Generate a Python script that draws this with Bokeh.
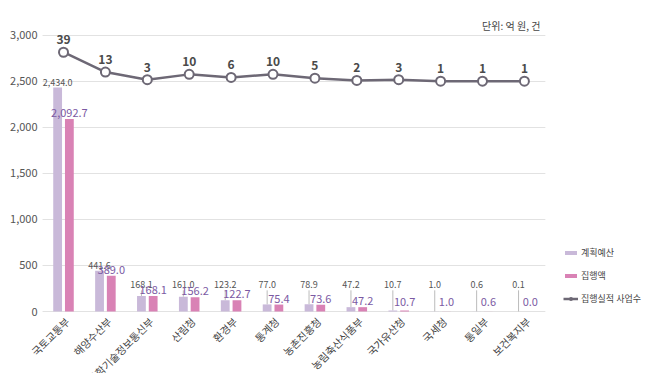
import numpy as np
from bokeh.plotting import figure
from bokeh.models import (Range1d, ColumnDataSource, LabelSet, Label,
                          Legend, LegendItem)
from bokeh.core.properties import value
from bokeh.embed import file_html
from bokeh.resources import INLINE

categories = ["국토교통부", "해양수산부", "과학기술정보통신부", "산림청", "환경부", "통계청",
              "농촌진흥청", "농림축산식품부", "국가유산청", "국세청", "통일부", "보건복지부"]
plan_budget = [2434.0, 441.6, 168.1, 161.0, 123.2, 77.0, 78.9, 47.2, 10.7, 1.0, 0.6, 0.1]
executed = [2092.7, 389.0, 168.1, 156.2, 122.7, 75.4, 73.6, 47.2, 10.7, 1.0, 0.6, 0.0]
project_count = [39, 13, 3, 10, 6, 10, 5, 2, 3, 1, 1, 1]
y_ticks = [0, 500, 1000, 1500, 2000, 2500, 3000]

FONT = "Noto Sans CJK KR"
PLAN_COLOR = "#c9b9d9"
EXEC_COLOR = "#d982b5"
LINE_COLOR = "#6d6875"

PLAN_MIN = 230
EXEC_MIN = 40
OFF = 0.14

n = len(categories)
xs = np.arange(n)
src = ColumnDataSource(dict(
    x=xs,
    xp=xs - OFF,
    xe=xs + OFF,
    cat=categories,
    plan=plan_budget,
    exe=executed,
    cnt=project_count,
    plan_txt=[f"{v:,.1f}" for v in plan_budget],
    exe_txt=[f"{v:,.1f}" for v in executed],
    cnt_txt=[str(c) for c in project_count],
    plan_lab=[max(v, PLAN_MIN) for v in plan_budget],
    exe_lab=[max(v, EXEC_MIN) for v in executed],
    zero=[0] * n,
))

tick_src = ColumnDataSource(dict(
    y=y_ticks,
    txt=[f"{t:,}" for t in y_ticks],
    x0=[-0.5] * len(y_ticks),
    x1=[n - 0.5] * len(y_ticks),
))

p = figure(width=650, height=373, x_range=Range1d(-1.5036, 14.009),
           y_range=Range1d(-673.9, 3380.4), output_backend="svg", toolbar_location=None,
           min_border_left=0, min_border_right=0, min_border_top=0, min_border_bottom=0)
p.extra_y_ranges = {"cnt": Range1d(-382.0, 106.8)}
p.outline_line_color = None
p.background_fill_color = "white"
p.border_fill_color = "white"
p.xaxis.visible = False
p.yaxis.visible = False
p.xgrid.grid_line_color = None
p.ygrid.grid_line_color = None

# value scale: grid lines over the category area and their tick labels
p.segment(x0="x0", x1="x1", y0="y", y1="y", source=tick_src,
          line_color="#e2e2e2", line_width=1)
p.add_layout(LabelSet(x="x0", y="y", text="txt", source=tick_src, x_offset=-5,
                      text_align="right", text_baseline="middle",
                      text_font=value(FONT), text_font_size="11px", text_color="#555555"))

# leader lines for raised plan labels
p.segment(x0="xp", y0="plan", x1="xp", y1="plan_lab",
          source=src, line_color="#bbbbbb", line_width=1)

r_plan = p.vbar(x="xp", top="plan", width=0.21, source=src,
                fill_color=PLAN_COLOR, line_color=None)
r_exec = p.vbar(x="xe", top="exe", width=0.21, source=src,
                fill_color=EXEC_COLOR, line_color=None)

r_line = p.line(x="x", y="cnt", source=src, y_range_name="cnt",
                line_color=LINE_COLOR, line_width=2.5)
r_pts = p.scatter(x="x", y="cnt", source=src, y_range_name="cnt", size=9,
                  fill_color="white", line_color=LINE_COLOR, line_width=2)

p.add_layout(LabelSet(x="xp", y="plan_lab", text="plan_txt",
                      source=src, text_align="center", text_baseline="bottom", y_offset=2,
                      text_font=value(FONT), text_font_size="9px", text_color="#555555"))
p.add_layout(LabelSet(x="xe", y="exe_lab", text="exe_txt",
                      source=src, text_align="center", text_baseline="bottom", y_offset=2,
                      text_font=value(FONT), text_font_size="11px", text_color="#7b5aa3"))
p.add_layout(LabelSet(x="x", y="cnt", y_range_name="cnt", text="cnt_txt", source=src,
                      text_align="center", text_baseline="bottom", y_offset=8,
                      text_font=value(FONT), text_font_size="12px", text_font_style="bold",
                      text_color="#4a4a4a"))
# rotated category labels
p.add_layout(LabelSet(x="x", y="zero", text="cat", source=src, x_offset=4, y_offset=-8,
                      angle=0.785398, text_align="right", text_baseline="middle",
                      text_font=value(FONT), text_font_size="10.5px", text_color="#444444"))

p.add_layout(Label(x=n - 0.5, y=3109, x_offset=-5, text="단위: 억 원, 건", text_align="right",
                   text_baseline="middle", text_font=FONT, text_font_size="10px",
                   text_color="#444444"))

legend = Legend(items=[
    LegendItem(label="계획예산", renderers=[r_plan]),
    LegendItem(label="집행액", renderers=[r_exec]),
    LegendItem(label="집행실적 사업수", renderers=[r_line, r_pts]),
], location=(563, 65), padding=0, margin=0, spacing=3, glyph_width=15, glyph_height=5,
    label_height=20, label_standoff=3, label_text_font=FONT, label_text_font_size="9px",
    label_text_color="#444444", border_line_color=None, background_fill_alpha=0)
p.add_layout(legend)

open("out.html", "w").write(file_html(p, INLINE))
